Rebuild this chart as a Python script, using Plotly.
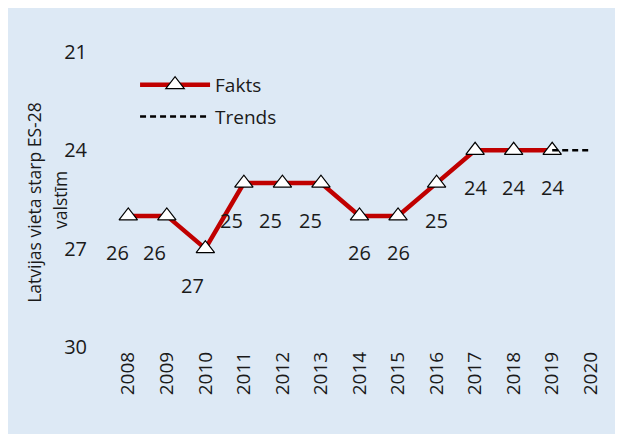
import plotly.graph_objects as go

# data
years = [2008, 2009, 2010, 2011, 2012, 2013, 2014, 2015, 2016, 2017, 2018, 2019, 2020]
fakts_years = years[:12]
fakts_rank = [26, 26, 27, 25, 25, 25, 26, 26, 25, 24, 24, 24]
trend_years = [2019, 2020]
trend_rank = [24, 24]
y_ticks = [21, 24, 27, 30]

# label nudges (px), as placed in the original
label_dx = [-11, -12, -13, -12, -12, -10, 0, 0, 0, 0, 0, 0]

FONT = "Open Sans"
TXT = "#1a1a1a"
BG = "#dde9f5"

fig = go.Figure()

fig.add_trace(go.Scatter(
    x=fakts_years, y=fakts_rank, name="Fakts", legendgroup="f",
    mode="lines+markers",
    line=dict(color="#c00000", width=4.5),
    marker=dict(symbol="triangle-up", size=16, color="white",
                line=dict(color="black", width=1.2)),
))
fig.add_trace(go.Scatter(
    x=trend_years, y=trend_rank, name="Trends", legendgroup="t",
    mode="lines",
    line=dict(color="black", width=2.5, dash="6px,4px"),
))

# value labels under each point
for yr, v, dx in zip(fakts_years, fakts_rank, label_dx):
    fig.add_annotation(x=yr, y=v, text=str(v), showarrow=False,
                       xshift=dx, yshift=-37,
                       font=dict(family=FONT, size=20, color=TXT))

# axis title, two lines, rotated
title_font = dict(family=FONT, size=17.5, color=TXT)
fig.add_annotation(xref="paper", yref="paper", x=-0.149, y=0.49,
                   text="Latvijas vieta starp ES-28", textangle=-90,
                   showarrow=False, xanchor="center", yanchor="middle",
                   font=title_font)
fig.add_annotation(xref="paper", yref="paper", x=-0.099, y=0.5,
                   text="valstīm", textangle=-90,
                   showarrow=False, xanchor="center", yanchor="middle",
                   font=title_font)

fig.update_layout(
    width=623, height=434,
    margin=dict(l=101, r=21, t=44, b=95),
    paper_bgcolor=BG,
    plot_bgcolor=BG,
    font=dict(family=FONT, size=20, color=TXT),
    showlegend=True,
    legend=dict(x=0.052, y=0.953, xanchor="left", yanchor="top",
                bgcolor="rgba(0,0,0,0)", itemwidth=70,
                traceorder="grouped", tracegroupgap=4,
                font=dict(family=FONT, size=19, color=TXT)),
    xaxis=dict(range=[2007.5, 2020.5], tickvals=years,
               ticktext=[str(y) for y in years], tickangle=-90,
               tickfont=dict(size=19),
               showgrid=False, zeroline=False, showline=False, ticks=""),
    yaxis=dict(range=[30, 21], tickvals=y_ticks,
               showgrid=False, zeroline=False, showline=False,
               ticks="outside", ticklen=17, tickcolor="rgba(0,0,0,0)"),
)

fig.write_html("out.html")
